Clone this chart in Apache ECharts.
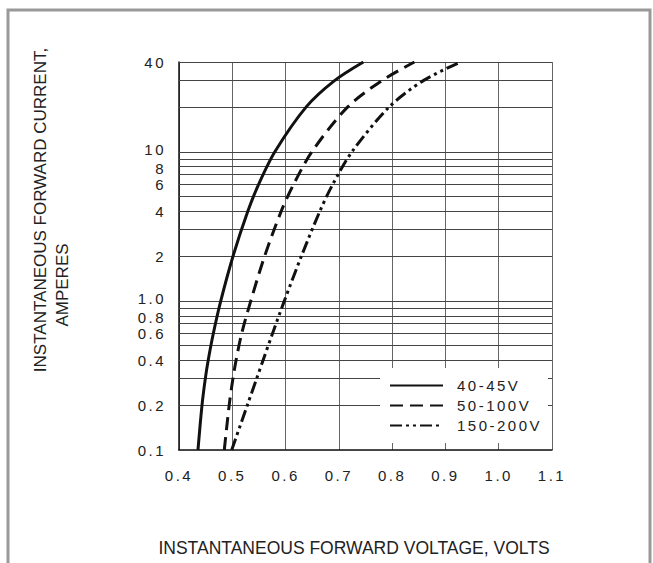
<!DOCTYPE html>
<html>
<head>
<meta charset="utf-8">
<script src="https://cdn.jsdelivr.net/npm/echarts@6/dist/echarts.min.js"></script>
<style>
  html, body { margin: 0; padding: 0; background: #fff; }
  #chart { width: 653px; height: 563px; }
  #chart text[style*="15px"] { letter-spacing: 2.5px; }
</style>
</head>
<body>
<div id="chart"></div>
<script>
// ---- data ----
const seriesNames = ['40-45V', '50-100V', '150-200V'];

const ampsA  = [0.1,    0.2,    0.3,    0.4,    0.6,    1,      2,      4,      6,      10,     20,     30,     40];
const voltsA = [0.4356, 0.4432, 0.4493, 0.4548, 0.4642, 0.4784, 0.5015, 0.5293, 0.5490, 0.5799, 0.6388, 0.6919, 0.7460];

const ampsB  = [0.1,    0.2,    0.3,    0.4,    0.6,    1,      2,      4,      6,      10,     20,     30,     40];
const voltsB = [0.4850, 0.4942, 0.5011, 0.5071, 0.5174, 0.5347, 0.5608, 0.5919, 0.6146, 0.6493, 0.7167, 0.7807, 0.8418];

const ampsC  = [0.1,    0.2,    0.3,    0.4,    0.6,    1,      2,      4,      6,      10,     20,     30,     40];
const voltsC = [0.4989, 0.5283, 0.5456, 0.5578, 0.5752, 0.5977, 0.6298, 0.6644, 0.6880, 0.7246, 0.7946, 0.8585, 0.9283];

const yLabelValues = [0.1, 0.2, 0.4, 0.6, 0.8, 1, 2, 4, 6, 8, 10, 40];
const yLabelTexts  = ['0.1', '0.2', '0.4', '0.6', '0.8', '1.0', '2', '4', '6', '8', '10', '40'];
const yGridValues  = [0.1, 0.2, 0.3, 0.4, 0.5, 0.6, 0.7, 0.8, 0.9, 1, 2, 3, 4, 5, 6, 7, 8, 9, 10, 20, 30, 40];

const xMin = 0.4, xMax = 1.1, xStep = 0.1;
const yMinAmp = 0.1, yMaxAmp = 40;

// ---- chart ----
const FONT = '"Liberation Sans", Arial, Helvetica, sans-serif';
const lg = Math.log10;
const toPts = (vs, as) => vs.map((v, i) => [v, lg(as[i])]);
const labelLogs = yLabelValues.map(lg);
const upLabels = ['10', '1.0'];
const downLabels = ['8', '0.8'];

const chart = echarts.init(document.getElementById('chart'), null, { renderer: 'svg' });

const curveBase = {
  type: 'line',
  symbol: 'none',
  smooth: 0.3,
  z: 3,
  silent: true
};

chart.setOption({
  animation: false,
  backgroundColor: '#fff',
  grid: { left: 179, right: 101, top: 62, bottom: 113, containLabel: false },
  xAxis: {
    type: 'value',
    min: xMin, max: xMax, interval: xStep,
    axisLine: { show: true, onZero: false, lineStyle: { color: '#111', width: 1.5 } },
    axisTick: { show: false },
    splitLine: { show: true, lineStyle: { color: '#666', width: 1 } },
    axisLabel: {
      margin: 18, fontSize: 15, color: '#222', fontFamily: FONT,
      formatter: v => v.toFixed(1)
    }
  },
  yAxis: {
    type: 'value',
    min: lg(yMinAmp), max: lg(yMaxAmp),
    axisLine: { show: true, onZero: false, lineStyle: { color: '#111', width: 1.5 } },
    axisTick: { show: false },
    splitLine: { show: false },
    axisLabel: {
      customValues: labelLogs,
      margin: 13, fontSize: 15, color: '#222', fontFamily: FONT,
      formatter: v => {
        let best = 0, d = Infinity;
        labelLogs.forEach((l, i) => { const dd = Math.abs(l - v); if (dd < d) { d = dd; best = i; } });
        const t = yLabelTexts[best];
        if (upLabels.includes(t)) return '{up|' + t + '}';
        if (downLabels.includes(t)) return '{dn|' + t + '}';
        return t;
      },
      rich: {
        up: { fontSize: 15, fontFamily: FONT, color: '#222', padding: [0, 0, 5, 0] },
        dn: { fontSize: 15, fontFamily: FONT, color: '#222', padding: [5, 0, 0, 0] }
      }
    }
  },
  legend: {
    data: seriesNames,
    orient: 'vertical',
    left: 380, top: 368,
    itemWidth: 53, itemHeight: 14, itemGap: 5,
    padding: [10, 26, 10, 9],
    backgroundColor: '#fff',
    z: 10,
    selectedMode: false,
    itemStyle: { color: 'rgba(0,0,0,0)', borderWidth: 0, opacity: 0 },
    textStyle: { fontSize: 15, color: '#222', fontFamily: FONT, padding: [0, 0, 0, 9] }
  },
  graphic: [
    {
      type: 'rect', silent: true, z: 0,
      shape: { x: 8, y: 10, width: 642, height: 620 },
      style: { fill: 'none', stroke: '#999', lineWidth: 3 }
    },
    {
      type: 'text', silent: true,
      x: 40, y: 210, rotation: Math.PI / 2,
      style: { text: 'INSTANTANEOUS FORWARD CURRENT,', font: '17px ' + FONT, fill: '#222', align: 'center', verticalAlign: 'middle' }
    },
    {
      type: 'text', silent: true,
      x: 62, y: 285, rotation: Math.PI / 2,
      style: { text: 'AMPERES', font: '17px ' + FONT, fill: '#222', align: 'center', verticalAlign: 'middle' }
    },
    {
      type: 'text', silent: true,
      x: 354, y: 548,
      style: { text: 'INSTANTANEOUS FORWARD VOLTAGE, VOLTS', font: '17.5px ' + FONT, fill: '#222', align: 'center', verticalAlign: 'middle' }
    }
  ],
  series: [
    {
      name: '__grid', type: 'line', data: [], z: 1, silent: true,
      markLine: {
        silent: true, z: 1, symbol: 'none', animation: false,
        label: { show: false },
        lineStyle: { color: '#444', width: 1, type: 'solid' },
        emphasis: { disabled: true },
        data: yGridValues.map(v => ({ yAxis: lg(v) }))
      }
    },
    Object.assign({}, curveBase, {
      name: seriesNames[0], data: toPts(voltsA, ampsA),
      lineStyle: { color: '#111', width: 3, type: 'solid' }, itemStyle: { color: '#111' }
    }),
    Object.assign({}, curveBase, {
      name: seriesNames[1], data: toPts(voltsB, ampsB),
      lineStyle: { color: '#111', width: 3, type: [13, 7] }, itemStyle: { color: '#111' }
    }),
    Object.assign({}, curveBase, {
      name: seriesNames[2], data: toPts(voltsC, ampsC),
      lineStyle: { color: '#111', width: 3, type: [12, 4, 3, 4, 3, 4] }, itemStyle: { color: '#111' }
    })
  ]
});
</script>
</body>
</html>
